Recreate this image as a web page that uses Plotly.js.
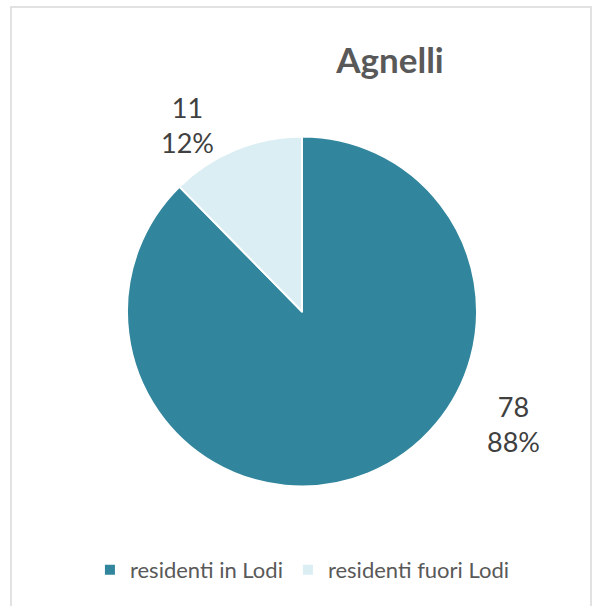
<!DOCTYPE html>
<html>
<head>
<meta charset="utf-8">
<script src="https://cdn.plot.ly/plotly-3.0.1.min.js"></script>
<style>
  html, body { margin: 0; padding: 0; background: #fff; }
  #chart { width: 593px; height: 606px; }
</style>
</head>
<body>
<div id="chart"></div>
<script>
const titleText = "Agnelli";
const categories = ["residenti in Lodi", "residenti fuori Lodi"];
const values = [78, 11];
const colors = ["#31859C", "#DAEEF3"];

const total = values.reduce((a, b) => a + b, 0);
const labelTexts = values.map(v => v + "<br>" + Math.round(v / total * 100) + "%");
// label anchor positions (paper coords) matching Excel's placement
const labelPos = [[0.866, 0.300], [0.317, 0.793]];

const font = "Lato, 'Open Sans', 'DejaVu Sans', sans-serif";
const textColor = "#595959";

const data = [{
  type: "pie",
  labels: categories,
  values: values,
  sort: false,
  direction: "clockwise",
  rotation: 0,
  textinfo: "none",
  hoverinfo: "label+value+percent",
  marker: { colors: colors, line: { color: "#FFFFFF", width: 2 } },
  domain: { x: [127 / 593, 477 / 593], y: [119 / 606, 470 / 606] }
}];

const layout = {
  width: 593,
  height: 606,
  margin: { l: 0, r: 0, t: 0, b: 0 },
  paper_bgcolor: "#FFFFFF",
  font: { family: font, color: textColor },
  title: {
    text: "<b>" + titleText + "</b>",
    font: { family: font, size: 35, color: textColor },
    x: 390 / 593, xanchor: "center",
    y: 1 - 61 / 606, yanchor: "middle",
    xref: "paper", yref: "paper"
  },
  showlegend: true,
  legend: {
    orientation: "h",
    x: 0.51, xanchor: "center",
    y: 1 - 570 / 606, yanchor: "middle",
    font: { family: font, size: 22, color: textColor },
    itemgap: 22,
    itemwidth: 30,
    traceorder: "normal"
  },
  annotations: labelTexts.map((t, i) => ({
    text: t,
    x: labelPos[i][0], y: labelPos[i][1],
    xref: "paper", yref: "paper",
    xanchor: "center", yanchor: "middle",
    showarrow: false,
    font: { family: font, size: 27, color: "#404040" }
  })),
  shapes: [{
    type: "rect", xref: "paper", yref: "paper",
    x0: 11 / 593, x1: 591 / 593, y0: -0.02, y1: 1 - 7 / 606,
    line: { color: "#D9D9D9", width: 1.5 },
    fillcolor: "rgba(0,0,0,0)"
  }]
};

Plotly.newPlot("chart", data, layout, { displayModeBar: false, staticPlot: true });
</script>
</body>
</html>
